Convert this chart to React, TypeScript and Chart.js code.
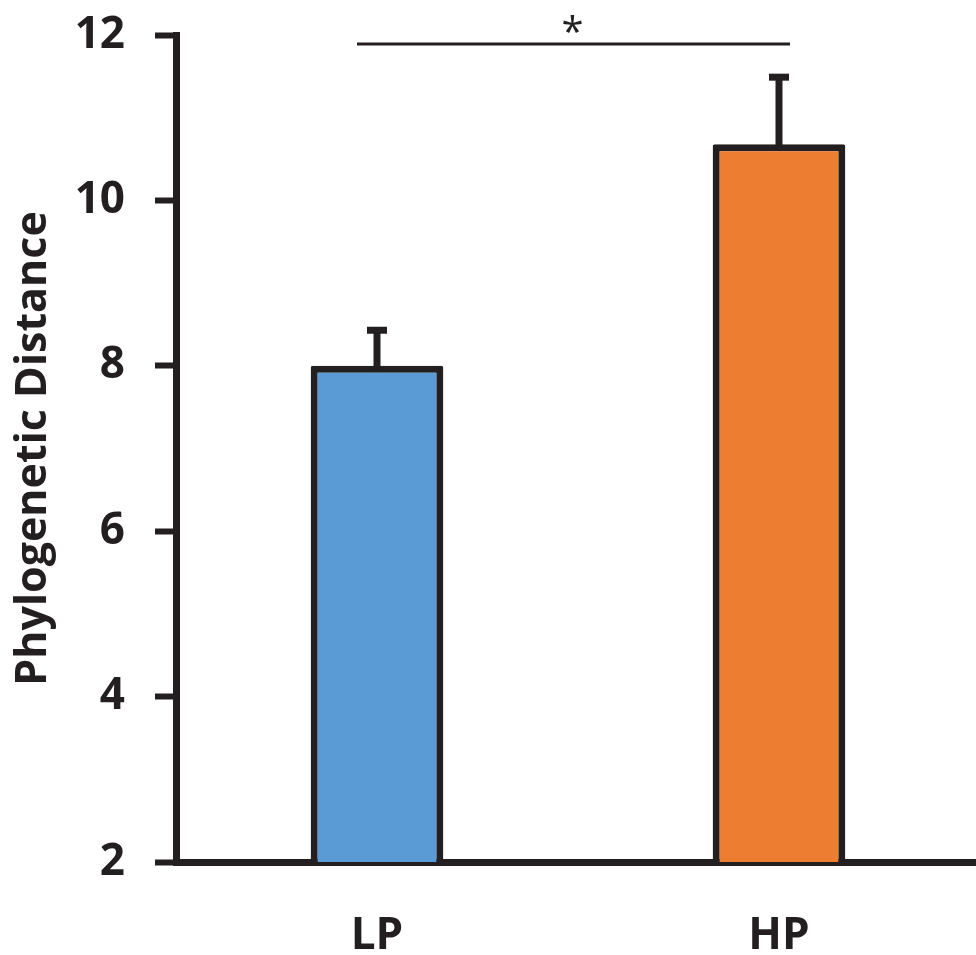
import React, { useEffect, useRef } from "react";
import { Chart, registerables } from "chart.js";

Chart.register(...registerables);

const categories = ["LP", "HP"];
const means = [8.0, 10.68];
const errorsUp = [0.43, 0.81];
const barColors = ["#5B9BD5", "#ED7D31"];
const yTicks = [2, 4, 6, 8, 10, 12];
const yTitle = "Phylogenetic Distance";
const sigLabel = "*";
const sigLevel = 11.89;

const DARK = "#231F20";
const FONT = "'Open Sans', 'DejaVu Sans', sans-serif";

const overlayPlugin = {
  id: "overlay",
  afterDatasetsDraw(chart: any) {
    const { ctx, scales } = chart;
    const x = scales.x;
    const y = scales.y;
    ctx.save();
    ctx.strokeStyle = DARK;
    ctx.lineCap = "butt";
    means.forEach((m, i) => {
      const cx = x.getPixelForValue(i);
      const yTop = y.getPixelForValue(m + errorsUp[i]);
      const yBar = y.getPixelForValue(m);
      ctx.lineWidth = 7;
      ctx.beginPath();
      ctx.moveTo(cx, yBar + 3);
      ctx.lineTo(cx, yTop);
      ctx.stroke();
      ctx.beginPath();
      ctx.moveTo(cx - 10, yTop);
      ctx.lineTo(cx + 10, yTop);
      ctx.stroke();
    });
    const sy = y.getPixelForValue(sigLevel);
    const x0 = x.getPixelForValue(0) - 20;
    const x1 = x.getPixelForValue(1) + 11;
    ctx.lineWidth = 3;
    ctx.beginPath();
    ctx.moveTo(x0, sy);
    ctx.lineTo(x1, sy);
    ctx.stroke();
    ctx.fillStyle = DARK;
    ctx.font = `normal 40px ${FONT}`;
    ctx.textAlign = "center";
    ctx.textBaseline = "alphabetic";
    ctx.fillText(sigLabel, (x0 + x1) / 2 - 1, sy + 2);
    ctx.restore();
  },
};

export default function App() {
  const ref = useRef<HTMLCanvasElement>(null);
  useEffect(() => {
    if (!ref.current) return;
    const chart = new Chart(ref.current, {
      type: "bar",
      data: {
        labels: categories,
        datasets: [
          {
            data: means,
            backgroundColor: barColors,
            borderColor: DARK,
            borderWidth: 7,
            borderRadius: 2,
            borderSkipped: "start",
            categoryPercentage: 1,
            barPercentage: 0.33,
          },
        ],
      },
      options: {
        responsive: false,
        animation: false,
        maintainAspectRatio: false,
        layout: { padding: { top: 35, right: 0, bottom: 0, left: 0 } },
        plugins: {
          legend: { display: false },
          tooltip: { enabled: false },
        },
        scales: {
          x: {
            type: "category",
            offset: true,
            grid: { display: true, drawOnChartArea: false, drawTicks: false },
            border: { display: true, color: DARK, width: 7 },
            ticks: {
              color: DARK,
              padding: 48,
              font: { family: FONT, size: 44, weight: "bold" },
            },
            afterFit: (axis: any) => {
              axis.height = 93;
              axis.paddingLeft = 0;
              axis.paddingRight = 0;
            },
          },
          y: {
            min: 2,
            max: 12,
            afterBuildTicks: (axis: any) => {
              axis.ticks = yTicks.map((v) => ({ value: v }));
            },
            grid: {
              display: true,
              drawOnChartArea: false,
              drawTicks: true,
              tickLength: 21,
              tickWidth: 6,
              tickColor: DARK,
              color: DARK,
            },
            border: { display: true, color: DARK, width: 7 },
            ticks: {
              color: DARK,
              padding: 30,
              font: { family: FONT, size: 44, weight: "bold" },
            },
            title: {
              display: true,
              text: yTitle,
              color: DARK,
              padding: { top: 8, bottom: 0 },
              font: { family: FONT, size: 43, weight: "bold" },
            },
            afterFit: (axis: any) => {
              axis.width = 176;
              axis.paddingTop = 0;
              axis.paddingBottom = 0;
            },
          },
        },
      },
      plugins: [overlayPlugin],
    });
    return () => chart.destroy();
  }, []);
  return (
    <div
      style={{
        position: "fixed",
        left: 0,
        top: 0,
        width: 976,
        height: 955,
        overflow: "hidden",
        background: "#fff",
      }}
    >
      <canvas ref={ref} width={980} height={955} style={{ display: "block" }} />
    </div>
  );
}
